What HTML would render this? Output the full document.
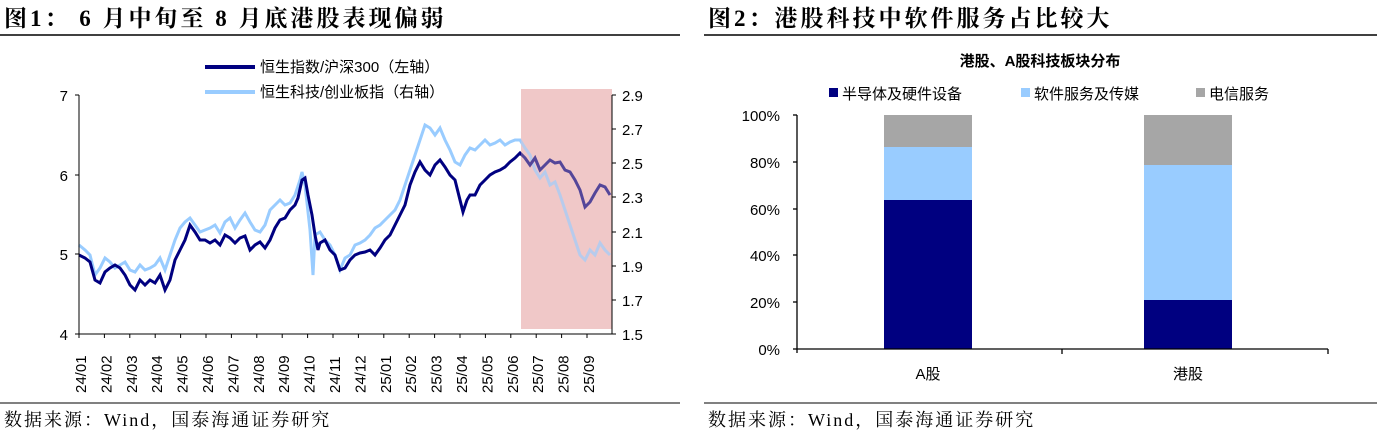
<!DOCTYPE html>
<html><head><meta charset="utf-8"><style>
html,body{margin:0;padding:0;background:#fff;}
svg{display:block;}
.t{font-family:"Liberation Serif","Noto Serif CJK SC",serif;font-weight:bold;font-size:23px;letter-spacing:3px;fill:#000}
.s{font-family:"Liberation Sans","Noto Sans CJK SC",sans-serif;font-size:15px;fill:#000}
.f{font-family:"Liberation Serif","Noto Serif CJK SC",serif;font-size:18px;letter-spacing:2px;fill:#000}
</style></head><body>
<svg width="1377" height="440" xmlns="http://www.w3.org/2000/svg">
<text class="t" x="4" y="26">图1： 6 月中旬至 8 月底港股表现偏弱</text>
<text class="t" x="708" y="26">图2：港股科技中软件服务占比较大</text>
<line x1="0" y1="35" x2="680" y2="35" stroke="#000" stroke-width="1.5"/>
<line x1="704" y1="35" x2="1377" y2="35" stroke="#000" stroke-width="1.5"/>
<line x1="0" y1="403" x2="680" y2="403" stroke="#000" stroke-width="1"/>
<line x1="704" y1="403" x2="1377" y2="403" stroke="#000" stroke-width="1"/>
<text class="f" x="4" y="426">数据来源：Wind，国泰海通证券研究</text>
<text class="f" x="708" y="426">数据来源：Wind，国泰海通证券研究</text>

<!-- chart 1 -->
<rect x="521" y="89" width="91" height="240" fill="#f0c8c8"/>
<line x1="205" y1="67" x2="255" y2="67" stroke="#000080" stroke-width="4"/>
<text class="s" x="260" y="72" font-size="15">恒生指数/沪深300（左轴）</text>
<line x1="205" y1="92" x2="255" y2="92" stroke="#99ccff" stroke-width="4"/>
<text class="s" x="260" y="97" font-size="15">恒生科技/创业板指（右轴）</text>
<polyline fill="none" stroke="#99ccff" stroke-width="3" points="79,245 85,250 90,255 95,275 100,268 105,258 110,262 115,268 120,265 125,262 130,270 135,272 140,265 145,270 150,268 155,265 160,258 165,270 170,255 175,240 180,228 185,222 190,218 195,225 200,232 205,230 210,228 215,225 220,233 225,222 230,218 235,228 240,220 245,213 250,222 255,230 260,232 265,225 270,210 275,205 280,200 285,205 290,203 295,195 300,180 302,172 305,185 310,230 313,275 315,235 320,232 325,240 330,245 335,255 340,270 345,258 350,255 355,245 360,243 365,240 370,235 375,228 380,225 385,220 390,215 395,210 400,200 405,185 410,170 415,155 420,140 425,125 430,128 435,135 440,128 445,140 450,150 455,162 460,165 465,155 470,148 475,150 480,145 485,140 490,145 495,143 500,140 505,145 510,142 515,140 520,140 525,148 530,155 535,170 540,178 545,172 550,185 555,182 560,195 565,210 570,225 575,240 580,255 585,260 590,250 595,255 600,243 605,250 610,255"/>
<polyline fill="none" stroke="#000080" stroke-width="3" points="79,255 85,258 90,262 95,280 100,283 105,272 110,268 115,265 120,268 125,275 130,285 135,290 140,280 145,285 150,280 155,283 160,275 165,290 170,280 175,260 180,250 185,240 190,225 195,232 200,240 205,240 210,243 215,240 220,245 225,235 230,238 235,243 240,238 245,236 250,250 255,245 260,242 265,248 270,240 275,228 280,220 285,218 290,210 295,205 298,198 302,180 305,178 308,195 312,215 315,235 318,250 320,243 325,240 330,250 335,255 340,270 345,268 350,260 355,255 360,253 365,252 370,250 375,255 380,248 385,240 390,235 395,225 400,215 405,205 410,185 415,172 420,162 425,170 430,175 435,165 440,160 445,167 450,175 455,180 460,200 463,212 467,200 470,195 475,195 480,185 485,180 490,175 495,172 500,170 505,167 510,162 515,158 520,153 525,158 530,165 535,158 540,170 545,165 550,160 555,163 560,162 565,170 570,172 575,180 580,190 585,207 590,202 595,193 600,185 605,187 610,195"/>
<rect x="521" y="89" width="91" height="240" fill="#f0c8c8" opacity="0.35"/>
<g stroke="#000" stroke-width="1">
<line x1="79" y1="95" x2="79" y2="334"/>
<line x1="79" y1="334" x2="612" y2="334"/>
<line x1="612" y1="95" x2="612" y2="334"/>
<line x1="75" y1="95" x2="79" y2="95"/><line x1="75" y1="175" x2="79" y2="175"/><line x1="75" y1="254" x2="79" y2="254"/><line x1="75" y1="334" x2="79" y2="334"/>
<line x1="612" y1="95" x2="616" y2="95"/><line x1="612" y1="129" x2="616" y2="129"/><line x1="612" y1="163" x2="616" y2="163"/><line x1="612" y1="197" x2="616" y2="197"/><line x1="612" y1="232" x2="616" y2="232"/><line x1="612" y1="266" x2="616" y2="266"/><line x1="612" y1="300" x2="616" y2="300"/><line x1="612" y1="334" x2="616" y2="334"/>
</g>
<text x="68" y="101" text-anchor="end" class="s" font-size="17">7</text>
<text x="68" y="181" text-anchor="end" class="s" font-size="17">6</text>
<text x="68" y="260" text-anchor="end" class="s" font-size="17">5</text>
<text x="68" y="340" text-anchor="end" class="s" font-size="17">4</text>
<text x="622" y="101" class="s" font-size="17">2.9</text>
<text x="622" y="135" class="s" font-size="17">2.7</text>
<text x="622" y="169" class="s" font-size="17">2.5</text>
<text x="622" y="203" class="s" font-size="17">2.3</text>
<text x="622" y="238" class="s" font-size="17">2.1</text>
<text x="622" y="272" class="s" font-size="17">1.9</text>
<text x="622" y="306" class="s" font-size="17">1.7</text>
<text x="622" y="340" class="s" font-size="17">1.5</text>
<g stroke="#000" stroke-width="1">
<line x1="79" y1="334" x2="79" y2="338"/><line x1="104.4" y1="334" x2="104.4" y2="338"/><line x1="129.8" y1="334" x2="129.8" y2="338"/><line x1="155.2" y1="334" x2="155.2" y2="338"/><line x1="180.6" y1="334" x2="180.6" y2="338"/><line x1="206" y1="334" x2="206" y2="338"/><line x1="231.4" y1="334" x2="231.4" y2="338"/><line x1="256.8" y1="334" x2="256.8" y2="338"/><line x1="282.2" y1="334" x2="282.2" y2="338"/><line x1="307.6" y1="334" x2="307.6" y2="338"/><line x1="333" y1="334" x2="333" y2="338"/><line x1="358.4" y1="334" x2="358.4" y2="338"/><line x1="383.8" y1="334" x2="383.8" y2="338"/><line x1="409.2" y1="334" x2="409.2" y2="338"/><line x1="434.6" y1="334" x2="434.6" y2="338"/><line x1="460" y1="334" x2="460" y2="338"/><line x1="485.4" y1="334" x2="485.4" y2="338"/><line x1="510.8" y1="334" x2="510.8" y2="338"/><line x1="536.2" y1="334" x2="536.2" y2="338"/><line x1="561.6" y1="334" x2="561.6" y2="338"/><line x1="587" y1="334" x2="587" y2="338"/>
</g>
<g font-size="16">
<text transform="translate(86,393) rotate(-90)" class="s" font-size="16">24/01</text>
<text transform="translate(111.4,393) rotate(-90)" class="s" font-size="16">24/02</text>
<text transform="translate(136.8,393) rotate(-90)" class="s" font-size="16">24/03</text>
<text transform="translate(162.2,393) rotate(-90)" class="s" font-size="16">24/04</text>
<text transform="translate(187.6,393) rotate(-90)" class="s" font-size="16">24/05</text>
<text transform="translate(213,393) rotate(-90)" class="s" font-size="16">24/06</text>
<text transform="translate(238.4,393) rotate(-90)" class="s" font-size="16">24/07</text>
<text transform="translate(263.8,393) rotate(-90)" class="s" font-size="16">24/08</text>
<text transform="translate(289.2,393) rotate(-90)" class="s" font-size="16">24/09</text>
<text transform="translate(314.6,393) rotate(-90)" class="s" font-size="16">24/10</text>
<text transform="translate(340,393) rotate(-90)" class="s" font-size="16">24/11</text>
<text transform="translate(365.4,393) rotate(-90)" class="s" font-size="16">24/12</text>
<text transform="translate(390.8,393) rotate(-90)" class="s" font-size="16">25/01</text>
<text transform="translate(416.2,393) rotate(-90)" class="s" font-size="16">25/02</text>
<text transform="translate(441.6,393) rotate(-90)" class="s" font-size="16">25/03</text>
<text transform="translate(467,393) rotate(-90)" class="s" font-size="16">25/04</text>
<text transform="translate(492.4,393) rotate(-90)" class="s" font-size="16">25/05</text>
<text transform="translate(517.8,393) rotate(-90)" class="s" font-size="16">25/06</text>
<text transform="translate(543.2,393) rotate(-90)" class="s" font-size="16">25/07</text>
<text transform="translate(568.6,393) rotate(-90)" class="s" font-size="16">25/08</text>
<text transform="translate(594,393) rotate(-90)" class="s" font-size="16">25/09</text>
</g>

<!-- chart 2 -->
<text x="1040" y="66" text-anchor="middle" class="s" font-size="18" font-weight="bold">港股、A股科技板块分布</text>
<rect x="829" y="88" width="9" height="9" fill="#000080"/>
<text x="842" y="99" class="s" font-size="16">半导体及硬件设备</text>
<rect x="1021" y="88" width="9" height="9" fill="#99ccff"/>
<text x="1034" y="99" class="s" font-size="16">软件服务及传媒</text>
<rect x="1196" y="88" width="9" height="9" fill="#a6a6a6"/>
<text x="1209" y="99" class="s" font-size="16">电信服务</text>
<rect x="884" y="115" width="88" height="32" fill="#a6a6a6"/>
<rect x="884" y="147" width="88" height="53" fill="#99ccff"/>
<rect x="884" y="200" width="88" height="149" fill="#000080"/>
<rect x="1144" y="115" width="88" height="50" fill="#a6a6a6"/>
<rect x="1144" y="165" width="88" height="135" fill="#99ccff"/>
<rect x="1144" y="300" width="88" height="49" fill="#000080"/>
<g stroke="#000" stroke-width="1.3">
<line x1="797" y1="115" x2="797" y2="353"/>
<line x1="797" y1="349" x2="1328" y2="349"/>
<line x1="1062" y1="349" x2="1062" y2="354"/><line x1="1328" y1="349" x2="1328" y2="354"/>
<line x1="793" y1="115" x2="797" y2="115"/><line x1="793" y1="162" x2="797" y2="162"/><line x1="793" y1="209" x2="797" y2="209"/><line x1="793" y1="255" x2="797" y2="255"/><line x1="793" y1="302" x2="797" y2="302"/><line x1="793" y1="349" x2="797" y2="349"/>
</g>
<text x="780" y="121" text-anchor="end" class="s" font-size="17">100%</text>
<text x="780" y="168" text-anchor="end" class="s" font-size="17">80%</text>
<text x="780" y="215" text-anchor="end" class="s" font-size="17">60%</text>
<text x="780" y="261" text-anchor="end" class="s" font-size="17">40%</text>
<text x="780" y="308" text-anchor="end" class="s" font-size="17">20%</text>
<text x="780" y="355" text-anchor="end" class="s" font-size="17">0%</text>
<text x="928" y="379" text-anchor="middle" class="s" font-size="17">A股</text>
<text x="1188" y="379" text-anchor="middle" class="s" font-size="17">港股</text>
</svg>
</body></html>
